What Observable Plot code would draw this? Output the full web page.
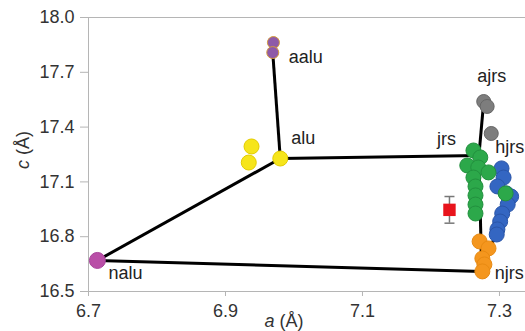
<!DOCTYPE html>
<html><head><meta charset="utf-8">
<script src="https://cdn.jsdelivr.net/npm/d3@7"></script>
<script src="https://cdn.jsdelivr.net/npm/@observablehq/plot@0.6"></script>
<style>body{margin:0;background:#fff} #chart svg{display:block}</style>
</head><body><div id="chart"></div>
<script>
// ---- data ----
const xTicks = [6.7, 6.9, 7.1, 7.3];
const yTicks = [16.5, 16.8, 17.1, 17.4, 17.7, 18.0];

const naluA = [6.713];            const naluC = [16.670];
const aluA = [6.980, 6.938, 6.934]; const aluC = [17.228, 17.294, 17.206];
const aaluA = [6.970, 6.969];     const aaluC = [17.863, 17.808];
const ajrsA = [7.277, 7.282, 7.288]; const ajrsC = [17.540, 17.513, 17.365];
const hjrsA = [7.303, 7.306, 7.297, 7.310, 7.317, 7.312, 7.304, 7.301, 7.297, 7.296];
const hjrsC = [17.174, 17.124, 17.075, 17.037, 17.020, 16.976, 16.927, 16.883, 16.840, 16.812];
const jrsA = [7.262, 7.272, 7.253, 7.269, 7.284, 7.262, 7.265, 7.265, 7.265, 7.265, 7.309];
const jrsC = [17.272, 17.234, 17.190, 17.179, 17.152, 17.124, 17.075, 17.026, 16.976, 16.927, 17.037];
const njrsA = [7.271, 7.284, 7.275, 7.278, 7.275];
const njrsC = [16.774, 16.736, 16.681, 16.648, 16.610];
const measA = [7.227]; const measC = [16.947]; const measErr = [0.073];

const nodeNames = ["nalu", "alu", "aalu", "jrs", "ajrs", "hjrs", "njrs", "hb"];
const nodeA = [6.713, 6.980, 6.969, 7.270, 7.277, 7.288, 7.274, 7.297];
const nodeC = [16.670, 17.228, 17.808, 17.245, 17.540, 17.365, 16.610, 16.840];
const edgeFrom = ["nalu", "alu", "nalu", "alu", "jrs", "jrs", "njrs"];
const edgeTo   = ["alu", "aalu", "njrs", "jrs", "ajrs", "njrs", "hb"];
const labelNames = ["nalu", "alu", "aalu", "jrs", "ajrs", "hjrs", "njrs"];

// ---- build tables ----
const pts = (A, C) => A.map((a, i) => ({a, c: C[i]}));
const node = Object.fromEntries(nodeNames.map((n, i) => [n, {a: nodeA[i], c: nodeC[i]}]));
const edges = edgeFrom.map((f, i) => ({x1: node[f].a, y1: node[f].c, x2: node[edgeTo[i]].a, y2: node[edgeTo[i]].c}));
const meas = measA.map((a, i) => ({a, c: measC[i], lo: measC[i] - measErr[i], hi: measC[i] + measErr[i]}));

// label offsets (styling)
const lab = {
  nalu: {dx: 11, dy: 13, anchor: "start"},
  alu:  {dx: 11, dy: -20, anchor: "start"},
  aalu: {dx: 16, dy: 5, anchor: "start"},
  jrs:  {dx: -23, dy: -16, anchor: "end"},
  ajrs: {dx: 8, dy: -25, anchor: "middle"},
  hjrs: {dx: 4, dy: 14, anchor: "start"},
  njrs: {dx: 13, dy: 2, anchor: "start"}
};

const cap = {draw(ctx) { ctx.moveTo(-5, 0); ctx.lineTo(5, 0); }};

const dot = (data, fill, stroke, r) => Plot.dot(data, {x: "a", y: "c", r, fill, stroke, strokeWidth: 1});

const plot = Plot.plot({
  width: 525, height: 331,
  marginLeft: 88, marginRight: 0, marginTop: 17, marginBottom: 40,
  x: {domain: [6.7, 7.338]},
  y: {domain: [16.5, 18.0]},
  style: {fontFamily: "'Liberation Sans', Arial, sans-serif", fontSize: "18px", background: "#fff", overflow: "visible"},
  marks: [
    Plot.ruleY([18.0], {stroke: "#b5b5b5"}),
    Plot.ruleY([16.5], {stroke: "#b5b5b5"}),
    Plot.ruleX([6.7], {stroke: "#b5b5b5"}),
    Plot.axisX(xTicks, {tickSize: 5, tickPadding: 8, stroke: "#b5b5b5", fill: "#333", tickFormat: d => d.toFixed(1), label: null, fontSize: 18}),
    Plot.axisY(yTicks, {tickSize: 8, tickPadding: 6, stroke: "#b5b5b5", fill: "#333", tickFormat: d => d.toFixed(1), label: null, fontSize: 18}),
    Plot.link(edges, {x1: "x1", y1: "y1", x2: "x2", y2: "y2", stroke: "#000", strokeWidth: 3}),
    dot(pts(aluA, aluC), "#f6e51b", "#e3cc00", 7.5),
    dot(pts(aaluA, aaluC), "#8e5aa8", "#d49a3a", 6),
    dot(pts(ajrsA, ajrsC), "#7d7d7d", "#666", 7),
    dot(pts(hjrsA, hjrsC), "#3466c2", "#2a55a8", 7.5),
    dot(pts(jrsA, jrsC), "#2ca84a", "#22903e", 7.5),
    dot(pts(njrsA, njrsC), "#f4961e", "#e88a12", 7.5),
    dot(pts(naluA, naluC), "#b94ea7", "#a8449a", 8),
    Plot.ruleX(meas, {x: "a", y1: "lo", y2: "hi", stroke: "#777", strokeWidth: 1.5}),
    Plot.dot(meas, {x: "a", y: "lo", symbol: cap, stroke: "#777", strokeWidth: 1.5, r: 3}),
    Plot.dot(meas, {x: "a", y: "hi", symbol: cap, stroke: "#777", strokeWidth: 1.5, r: 3}),
    Plot.dot(meas, {x: "a", y: "c", symbol: "square", fill: "#e8141c", r: 7}),
    ...labelNames.map(n => Plot.text([node[n]], {x: "a", y: "c", text: () => n, dx: lab[n].dx, dy: lab[n].dy, textAnchor: lab[n].anchor, fill: "#222", fontSize: 18}))
  ]
});

const svg = d3.select(plot);
const xt = svg.append("text").attr("x", 284).attr("y", 327).attr("text-anchor", "middle")
  .attr("fill", "#333").style("font-size", "18px");
xt.append("tspan").attr("font-style", "italic").text("a");
xt.append("tspan").text(" (Å)");
const yt = svg.append("text").attr("transform", "translate(29,150) rotate(-90)").attr("text-anchor", "middle")
  .attr("fill", "#333").style("font-size", "18px");
yt.append("tspan").attr("font-style", "italic").text("c");
yt.append("tspan").text(" (Å)");

document.getElementById("chart").append(plot);
</script>
</body></html>
